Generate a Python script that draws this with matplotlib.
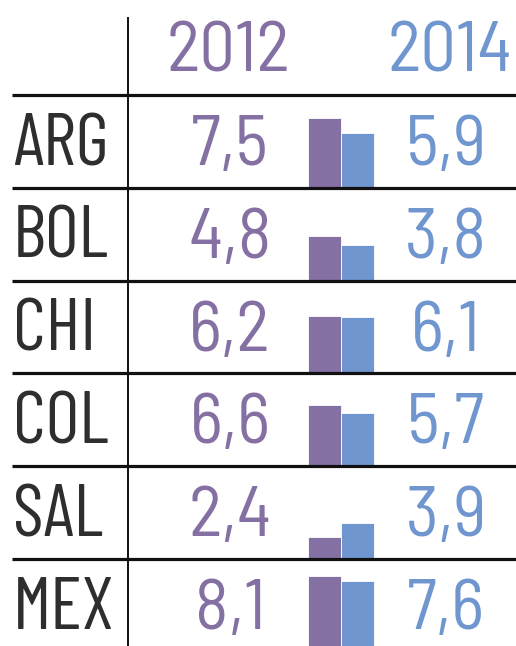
import matplotlib
matplotlib.use("Agg")
import matplotlib.pyplot as plt

countries = ["ARG", "BOL", "CHI", "COL", "SAL", "MEX"]
years = ["2012", "2014"]
values_2012 = [7.5, 4.8, 6.2, 6.6, 2.4, 8.1]
values_2014 = [5.9, 3.8, 6.1, 5.7, 3.9, 7.6]
labels_2012 = ["7,5", "4,8", "6,2", "6,6", "2,4", "8,1"]
labels_2014 = ["5,9", "3,8", "6,1", "5,7", "3,9", "7,6"]

W, H = 516, 646
PURPLE = "#8570a3"
BLUE = "#7096cf"
DARK = "#2e2e2e"
FONT_NUM = ["Barlow Semi Condensed", "Barlow Condensed", "DejaVu Sans"]
FONT_LAB = ["Barlow Condensed", "DejaVu Sans"]
FS = 51

fig = plt.figure(figsize=(W / 100, H / 100), dpi=100)
ax = fig.add_axes([0, 0, 1, 1])
ax.set_xlim(0, W)
ax.set_ylim(0, H)
ax.axis("off")

top = 95
row_h = 92.8
px_per_unit = 9.3

# header
ax.text(228, H - 72, years[0], color=PURPLE, fontsize=FS, family=FONT_NUM,
        ha="center", va="baseline")
ax.text(450, H - 72, years[1], color=BLUE, fontsize=FS, family=FONT_NUM,
        ha="center", va="baseline")

# vertical separator
ax.plot([128, 128], [H - 17, 0], color="#111111", lw=1.4, solid_capstyle="butt")

for i, c in enumerate(countries):
    row_top = top + i * row_h
    row_bot = row_top + row_h
    ax.plot([12, W], [H - row_top, H - row_top], color="#111111", lw=2.3,
            solid_capstyle="butt")
    base = H - (row_top + 70)
    ax.text(13, base, c, color=DARK, fontsize=53, family=FONT_LAB,
            ha="left", va="baseline")
    ax.text(230, base, labels_2012[i], color=PURPLE, fontsize=FS, family=FONT_NUM,
            ha="center", va="baseline")
    ax.text(446, base, labels_2014[i], color=BLUE, fontsize=FS, family=FONT_NUM,
            ha="center", va="baseline")
    ax.bar(324, values_2012[i] * px_per_unit, bottom=H - row_bot, width=33,
           color=PURPLE, edgecolor="white", linewidth=0.6, zorder=1)
    ax.bar(357, values_2014[i] * px_per_unit, bottom=H - row_bot, width=33,
           color=BLUE, edgecolor="white", linewidth=0.6, zorder=1)

fig.savefig("out.png", dpi=100, facecolor="white")
